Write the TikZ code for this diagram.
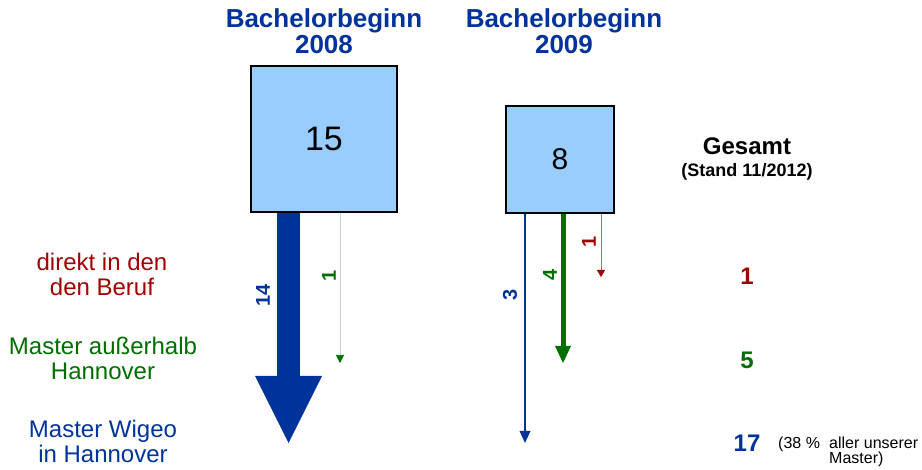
\documentclass[tikz,border=0pt]{standalone}
\usepackage{fontspec}
\setsansfont{Liberation Sans}
\usepackage{xcolor}
\usetikzlibrary{positioning,calc,arrows.meta}
\definecolor{wigeoblue}{RGB}{0,51,153}
\definecolor{cohortfill}{RGB}{153,204,255}
\definecolor{berufred}{RGB}{160,0,0}
\definecolor{extgreen}{RGB}{0,110,0}

\begin{document}
\begin{tikzpicture}[x=1pt, y=-1pt, font=\sffamily,
    cohort/.style={draw=black, line width=1.5pt, fill=cohortfill, inner sep=0pt},
    heading/.style={align=center, anchor=base, text=wigeoblue, inner sep=0pt,
        font=\sffamily\bfseries\fontsize{26}{26}\selectfont},
    grouptext/.style={align=center, anchor=base, inner sep=0pt,
        font=\sffamily\fontsize{24}{25}\selectfont},
    flownum/.style={rotate=90, inner sep=0pt,
        font=\sffamily\bfseries\fontsize{20}{20}\selectfont},
    totalnum/.style={anchor=base, inner sep=0pt,
        font=\sffamily\bfseries\fontsize{24}{24}\selectfont}]

    \useasboundingbox (0,0) rectangle (922,470);

    % cohorts
    \node [heading] (head08) at (324,54) {Bachelorbeginn\\2008};
    \node [heading] (head09) at (564,54) {Bachelorbeginn\\2009};
    \node [cohort, minimum width=146pt, minimum height=146pt,
        font=\sffamily\fontsize{34}{34}\selectfont] (box08) at (324,139) {15};
    \node [cohort, minimum width=108pt, minimum height=107pt,
        font=\sffamily\fontsize{30}{30}\selectfont] (box09) at (560,159.5) {8};

    % arrow ends
    \coordinate (end14) at (288.5,443);
    \coordinate (endext08) at (340,363);
    \coordinate (end3) at (525,443);
    \coordinate (end4) at (563,363);
    \coordinate (endberuf09) at (601,277);

    % Bachelorbeginn 2008
    \draw [wigeoblue, line width=23pt, -{Triangle[length=67pt, width=67pt, line width=0pt]}]
        (box08.south -| end14) -- (end14);
    \draw [extgreen!25, line width=0.6pt, -{Triangle[length=8pt, width=8pt, color=extgreen]}]
        (box08.south -| endext08) -- (endext08);
    \node [flownum, text=wigeoblue] (n14) at (263,295) {14};
    \node [flownum, text=extgreen] (n1a) at (329,276) {1};

    % Bachelorbeginn 2009
    \draw [wigeoblue, line width=2.5pt, -{Triangle[length=12pt, width=11pt, line width=0pt]}]
        (box09.south -| end3) -- (end3);
    \draw [extgreen, line width=5pt, -{Triangle[length=17pt, width=16pt, line width=0pt]}]
        (box09.south -| end4) -- (end4);
    \draw [berufred!60, line width=1pt, -{Triangle[length=7pt, width=8pt, color=berufred]}]
        (box09.south -| endberuf09) -- (endberuf09);
    \node [flownum, text=wigeoblue] (n3) at (510,295) {3};
    \node [flownum, text=extgreen] (n4) at (550,275) {4};
    \node [flownum, text=berufred] (n1b) at (589,242) {1};

    % groups
    \node [grouptext, text=berufred] (beruf) at (102,296) {direkt in den\\den Beruf};
    \node [grouptext, text=extgreen] (extern) at (103,380) {Master außerhalb\\Hannover};
    \node [grouptext, text=wigeoblue] (wigeo) at (103,463) {Master Wigeo\\in Hannover};

    % totals
    \node [totalnum] (gesamt) at (747,155) {Gesamt};
    \node [anchor=base, inner sep=0pt, font=\sffamily\bfseries\fontsize{18}{18}\selectfont]
        (stand) at (747,177) {(Stand 11/2012)};
    \node [totalnum, text=berufred] (tot1) at (747,285) {1};
    \node [totalnum, text=extgreen] (tot5) at (747,369) {5};
    \node [totalnum, text=wigeoblue] (tot17) at (747,452) {17};
    \node [anchor=base west, inner sep=0pt, font=\sffamily\fontsize{16}{15}\selectfont]
        (pct) at (778,449) {(38 \%};
    \node [anchor=base west, align=left, inner sep=0pt, font=\sffamily\fontsize{16}{15}\selectfont]
        (note) at (829,464) {aller unserer\\Master)};
\end{tikzpicture}
\end{document}
